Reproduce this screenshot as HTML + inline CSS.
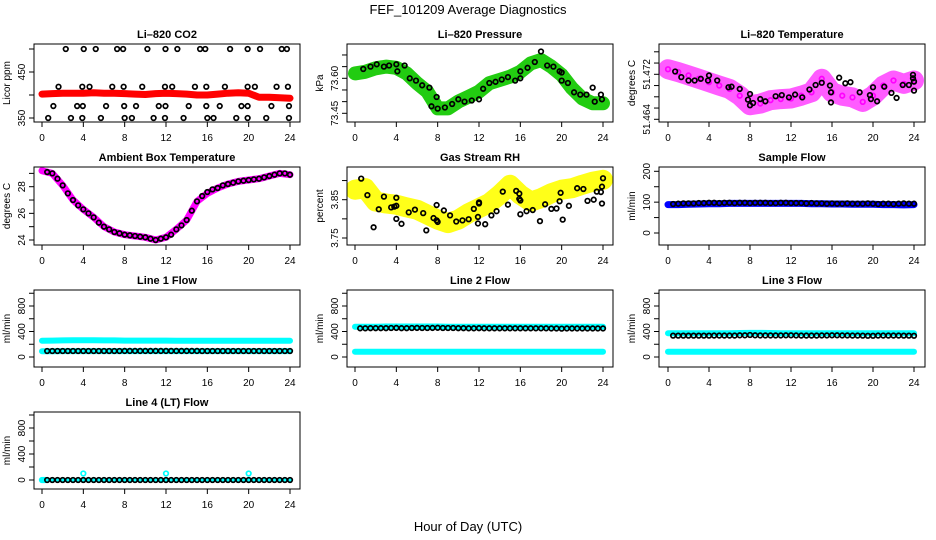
<!DOCTYPE html>
<html><head><meta charset="utf-8"><style>
html,body{margin:0;padding:0;background:#fff;}
svg{display:block;font-family:"Liberation Sans",Arial,sans-serif;}
</style></head><body>
<svg id="chart" width="936" height="540" viewBox="0 0 936 540" xmlns="http://www.w3.org/2000/svg">
<text x="468" y="14" text-anchor="middle" font-size="13">FEF_101209  Average Diagnostics</text>
<text x="468" y="531" text-anchor="middle" font-size="13">Hour of Day (UTC)</text>
</svg>
<script>
const hours = [0,1,2,3,4,5,6,7,8,9,10,11,12,13,14,15,16,17,18,19,20,21,22,23,24];
const halfHours = [0.5,1,1.5,2,2.5,3,3.5,4,4.5,5,5.5,6,6.5,7,7.5,8,8.5,9,9.5,10,10.5,11,11.5,12,12.5,13,13.5,14,14.5,15,15.5,16,16.5,17,17.5,18,18.5,19,19.5,20,20.5,21,21.5,22,22.5,23,23.5,24];
const xTickValues = [0,4,8,12,16,20,24];
const xTickLabels = ["0","4","8","12","16","20","24"];

// CO2
const co2Red = [402,403,404,404,404,405,404,404,403,402,401,403,404,403,402,400,400,402,404,405,404,395,395,394,393];
const co2BlackHours = [2.3,4.04,5.2,7.27,7.85,10.2,11.95,13.1,15.3,15.8,18.2,19.9,21.1,23.2,23.7, 1.6,3.9,4.6,6.8,7.9,9.7,11.9,12.6,14.8,15.9,17.7,19.9,20.6,22.7,23.8, 1.1,3.4,3.95,6.2,7.95,9.1,11.3,11.95,14.2,15.9,17.2,19.3,19.9,22.2,23.9, 0.6,2.8,3.9,5.7,8.0,8.7,10.8,11.9,13.7,16.0,16.6,18.8,19.9,21.7,23.9];
const co2BlackValues = [500,500,500,500,500,500,500,500,500,500,500,500,500,500,500, 418,418,418,418,418,418,418,418,418,418,418,418,418,418,418, 376,376,376,376,376,376,376,376,376,376,376,376,376,376,376, 350,350,350,350,350,350,350,350,350,350,350,350,350,350,350];
const co2Ticks = [350,400,450,500];
const co2TickLabels = ["350","","450",""];

// Pressure
const presGreen = [73.621,73.628,73.643,73.650,73.645,73.621,73.579,73.543,73.471,73.471,73.500,73.521,73.543,73.579,73.593,73.607,73.628,73.664,73.678,73.650,73.614,73.557,73.514,73.493,73.493];
const presBlackHours = [0.8,1.5,2.1,2.8,3.3,4,4.8,4.1,5.3,5.9,6.5,7.2,7.9,7.4,8.0,8.7,9.4,10.0,10.6,11.3,12.0,12.4,13.0,13.6,14.2,14.8,15.5,16.0,16.0,16.7,17.4,18.0,18.6,19.2,19.8,20.0,20.0,20.6,21.2,21.8,22.4,23.0,23.2,23.8,23.9];
const presBlackValues = [73.64,73.65,73.66,73.65,73.655,73.66,73.655,73.63,73.60,73.59,73.57,73.56,73.52,73.48,73.47,73.475,73.49,73.51,73.50,73.505,73.51,73.555,73.58,73.585,73.595,73.605,73.59,73.60,73.63,73.645,73.67,73.715,73.655,73.65,73.63,73.625,73.59,73.58,73.54,73.53,73.53,73.56,73.50,73.53,73.51];
const presTicks = [73.45,73.50,73.55,73.60,73.65,73.70];
const presTickLabels = ["73.45","","","73.60","",""];

// Li-820 temperature
const tempMagenta = [51.4729,51.4724,51.4718,51.4712,51.4706,51.4700,51.4694,51.4682,51.4665,51.4668,51.4674,51.4676,51.4677,51.4682,51.4688,51.4712,51.4688,51.4682,51.4679,51.4671,51.4682,51.4700,51.4709,51.4703,51.4709];
const tempBlackHours = [0.7,1.3,2,2.6,3.2,4.0,3.9,4.8,5.9,6.2,7.0,8,7.8,8.0,8.3,9,9.5,10.5,11.1,11.8,12.4,13.1,13.8,14.4,15,15.8,15.9,15.9,16.7,17.3,17.8,18.7,19.7,19.8,20.4,20.0,21.1,21.8,22.3,22.9,23.5,23.9,23.9,24,24];
const tempBlackValues = [51.4725,51.4715,51.4709,51.4709,51.4712,51.4718,51.4709,51.4709,51.4697,51.4698,51.4694,51.4685,51.4675,51.4665,51.4669,51.4676,51.4672,51.4681,51.4683,51.4679,51.4684,51.4679,51.4693,51.4701,51.4705,51.4700,51.4688,51.4670,51.4714,51.4704,51.4706,51.4688,51.4683,51.4676,51.4672,51.4697,51.4698,51.4687,51.4678,51.4701,51.4701,51.4719,51.4713,51.4707,51.4691];
const tempTicks = [51.464,51.466,51.468,51.470,51.472,51.474,51.476];
const tempTickLabels = ["51.464","","","","51.472","",""];

// Ambient
const ambMagenta = [29.2,29.0,28.1,27.0,26.3,25.7,25.0,24.6,24.4,24.3,24.2,24.0,24.2,24.8,25.5,26.9,27.5,27.9,28.2,28.4,28.5,28.6,28.8,29.0,28.9];
const ambBlack = [29.1,29.0,28.6,28.1,27.5,27.0,26.6,26.3,26.0,25.7,25.3,25.0,24.8,24.6,24.5,24.4,24.35,24.3,24.25,24.2,24.1,24.0,24.1,24.2,24.4,24.8,25.1,25.5,26.2,26.9,27.3,27.6,27.8,27.9,28.1,28.2,28.3,28.4,28.45,28.5,28.55,28.6,28.7,28.8,28.9,29.0,29.0,28.9];
const ambTicks = [24,25,26,27,28,29];
const ambTickLabels = ["24","","26","","28",""];

// RH
const rhYellow = [3.876,3.880,3.845,3.840,3.837,3.830,3.824,3.811,3.798,3.789,3.798,3.815,3.828,3.841,3.863,3.889,3.863,3.845,3.854,3.867,3.876,3.880,3.889,3.897,3.902];
const rhBlackHours = [0.6,1.2,1.8,2.3,2.8,3.5,3.8,4.0,4.0,4.0,4.5,5.2,5.8,6.6,6.9,7.6,7.9,7.9,8.0,8.6,9.2,9.8,10.4,11.0,11.5,11.9,11.9,12.0,12.0,12.6,13.2,13.7,14.3,14.8,15.6,15.9,15.9,16.0,16.0,16.6,17.2,17.9,18.4,19.0,19.5,19.8,19.9,20.1,20.7,21.5,22.1,22.5,23.1,23.4,23.8,23.9,23.9,24.0];
const rhBlackValues = [3.905,3.862,3.778,3.825,3.858,3.830,3.832,3.834,3.855,3.800,3.787,3.817,3.824,3.815,3.770,3.802,3.836,3.796,3.792,3.822,3.809,3.793,3.796,3.799,3.826,3.805,3.788,3.840,3.843,3.786,3.809,3.820,3.871,3.837,3.873,3.852,3.866,3.848,3.812,3.820,3.823,3.794,3.838,3.826,3.827,3.846,3.868,3.798,3.834,3.880,3.878,3.847,3.850,3.871,3.870,3.884,3.840,3.906];
const rhTicks = [3.75,3.80,3.85,3.90];
const rhTickLabels = ["3.75","","3.85",""];

// Sample flow
const sampleBlue = [92,92,93,94,95,95,96,96,96,96,96,96,96,96,95,95,94,94,93,93,93,92,92,91,92];
const sampleBlack = [94,95,96,96,96,97,97,98,98,97,98,98,97,98,98,97,98,98,98,97,97,98,98,97,97,97,96,97,96,96,95,96,95,95,96,95,95,95,96,95,94,95,95,94,95,96,95,95];
const sampleTicks = [0,50,100,150,200];
const sampleTickLabels = ["0","","100","","200"];

// Line flows
const flowTicks = [0,200,400,600,800,1000];
const flowTickLabels = ["0","","400","","800",""];
const line1CyanHigh = [256,258,260,262,262,262,260,260,258,258,258,258,258,256,256,256,256,256,256,256,256,256,256,256,256];
const line1CyanLow = [90,90,92,92,92,92,92,92,92,92,92,92,92,92,92,92,92,92,92,92,92,92,92,92,92];
const line1Black = [94,94,94,94,94,94,94,94,94,94,94,94,94,94,94,95,95,95,95,95,95,95,95,95,95,95,95,95,95,95,94,94,94,94,94,94,94,94,94,94,94,94,94,94,94,94,94,94];
const line2CyanHigh = [475,475,476,478,478,478,478,478,478,476,476,476,476,475,475,475,475,475,475,475,475,475,475,475,475];
const line2CyanLow = [83,83,83,83,83,83,83,83,83,83,83,83,83,83,83,83,83,83,83,83,83,83,83,83,83];
const line2Black = [450,450,452,452,452,452,455,456,452,452,455,456,455,455,456,458,455,455,455,452,452,450,450,452,450,450,450,450,450,450,450,450,450,450,450,450,450,448,448,445,448,448,448,448,448,448,448,448];
const line3CyanHigh = [372,372,372,372,372,372,374,376,378,378,376,374,374,374,374,372,372,372,372,372,372,372,372,372,372];
const line3CyanLow = [83,83,83,83,83,83,83,83,83,83,83,83,83,83,83,83,83,83,83,83,83,83,83,83,83];
const line3Black = [335,335,335,335,335,335,335,335,336,336,336,336,336,340,340,345,340,338,338,338,338,338,340,340,338,336,336,336,336,338,338,340,340,338,338,336,336,335,333,333,336,336,336,336,336,335,335,333];
const line4CyanHours = [0,0.1,0.2,0.3,4,12,20];
const line4CyanValues = [0,0,0,0,100,100,100];
const line4Black = [0,0,0,0,0,0,0,0,0,0,0,0,0,0,0,0,0,0,0,0,0,0,0,0,0,0,0,0,0,0,0,0,0,0,0,0,0,0,0,0,0,0,0,0,0,0,0,0];

const NS = "http://www.w3.org/2000/svg";
const svg = document.getElementById('chart');
const cols = [{L:34,R:300,x0:42,x1:290},{L:347,R:613,x0:355,x1:603},{L:659,R:925,x0:668,x1:914}];
const rows = [{T:44,B:122},{T:167,B:245},{T:290,B:367},{T:412,B:489}];

function mk(tag, attrs, parent){
  const e = document.createElementNS(NS, tag);
  for (const k in attrs) e.setAttribute(k, attrs[k]);
  (parent||svg).appendChild(e);
  return e;
}

function panel(name, title, ylab, c, r, v1, p1, v2, p2, ticks, labels){
  const C = cols[c], R = rows[r];
  const g = mk('g', {});
  
  
  const xs = h => C.x0 + (C.x1 - C.x0) * h / 24;
  const ys = v => p1 + (v - v1) * (p2 - p1) / (v2 - v1);
  const clip = mk('clipPath', {id: 'clip-' + name}, g);
  mk('rect', {x: C.L, y: R.T, width: C.R - C.L, height: R.B - R.T}, clip);
  const plot = mk('g', {'clip-path': 'url(#clip-' + name + ')'}, g);
  
  
  const box = mk('rect', {x: C.L, y: R.T, width: C.R - C.L, height: R.B - R.T, fill: 'none', stroke: '#000', 'stroke-width': 1}, g);
  
  
  const t = mk('text', {x: (C.L + C.R) / 2, y: R.T - 6, 'text-anchor': 'middle', 'font-size': 11, 'font-weight': 'bold'}, g);
  t.textContent = title;
  
  
  const yl = mk('text', {x: 0, y: 0, transform: 'translate(' + (C.L - 24) + ',' + ((R.T + R.B) / 2) + ') rotate(-90)', 'text-anchor': 'middle', 'font-size': 10}, g);
  yl.textContent = ylab;
  
  
  xTickValues.forEach((h, i) => {
    const x = xs(h);
    const tk = mk('line', {x1: x, x2: x, y1: R.B, y2: R.B + 5, stroke: '#000'}, g);
    
    
    const tl = mk('text', {x: x, y: R.B + 19, 'text-anchor': 'middle', 'font-size': 10}, g);
    tl.textContent = xTickLabels[i];
    
    
  });
  ticks.forEach((v, i) => {
    const y = ys(v);
    const tk = mk('line', {x1: C.L - 5, x2: C.L, y1: y, y2: y, stroke: '#000'}, g);
    
    
    if (labels[i]) {
      const tl = mk('text', {x: 0, y: 0, transform: 'translate(' + (C.L - 9) + ',' + y + ') rotate(-90)', 'text-anchor': 'middle', 'font-size': 10}, g);
      tl.textContent = labels[i];
      
      
    }
  });
  return {plot, xs, ys};
}

function band(P, name, hs, vs, color, width, op){
  const pts = hs.map((h, i) => P.xs(h).toFixed(1) + ',' + P.ys(vs[i]).toFixed(1)).join(' ');
  const pl = mk('polyline', {points: pts, fill: 'none', stroke: color, 'stroke-width': width, 'stroke-linejoin': 'round', 'stroke-linecap': 'round', 'stroke-opacity': op || 1}, P.plot);
  
  
}
function points(P, name, hs, vs, color){
  const g = mk('g', {}, P.plot);
  
  
  hs.forEach((h, i) => {
    const ci = mk('circle', {cx: P.xs(h), cy: P.ys(vs[i]), r: 2.3, fill: 'none', stroke: color, 'stroke-width': 1.7}, g);
    
    
  });
}

let P;
P = panel('co2', 'Li\u2013820 CO2', 'Licor ppm', 0, 0, 350, 118, 450, 72, co2Ticks, co2TickLabels);
band(P, 'co2-red-band', hours, co2Red, '#f00', 7);
points(P, 'co2-black-points', co2BlackHours, co2BlackValues, '#000');

P = panel('pressure', 'Li\u2013820 Pressure', 'kPa', 1, 0, 73.45, 113.3, 73.60, 78.3, presTicks, presTickLabels);
band(P, 'pressure-green-band', hours, presGreen, '#22cc11', 14);
points(P, 'pressure-black-points', presBlackHours, presBlackValues, '#000');

P = panel('li820-temp', 'Li\u2013820 Temperature', 'degrees C', 2, 0, 51.464, 119.3, 51.472, 74.3, tempTicks, tempTickLabels);
band(P, 'temp-magenta-band', hours, tempMagenta, '#ff33ff', 20, 0.8);
points(P, 'temp-magenta-points', hours, tempMagenta, '#ff00ff');
points(P, 'temp-black-points', tempBlackHours, tempBlackValues, '#000');

P = panel('ambient', 'Ambient Box Temperature', 'degrees C', 0, 1, 24, 240, 28, 186.7, ambTicks, ambTickLabels);
band(P, 'ambient-magenta-line', hours, ambMagenta, '#ff00ff', 7);
points(P, 'ambient-black-points', halfHours, ambBlack, '#000');

P = panel('rh', 'Gas Stream RH', 'percent', 1, 1, 3.75, 238, 3.85, 199.7, rhTicks, rhTickLabels);
band(P, 'rh-yellow-band', hours, rhYellow, '#ffff00', 20, 0.9);
points(P, 'rh-black-points', rhBlackHours, rhBlackValues, '#000');

P = panel('sample-flow', 'Sample Flow', 'ml/min', 2, 1, 0, 233, 200, 171.3, sampleTicks, sampleTickLabels);
band(P, 'sample-blue-band', hours, sampleBlue, '#0000ff', 7);
points(P, 'sample-black-points', halfHours, sampleBlack, '#000');

P = panel('line1', 'Line 1 Flow', 'ml/min', 0, 2, 0, 357, 800, 306, flowTicks, flowTickLabels);
band(P, 'line1-cyan-high', hours, line1CyanHigh, '#00ffff', 6);
band(P, 'line1-cyan-low', hours, line1CyanLow, '#00ffff', 6);
points(P, 'line1-black-points', halfHours, line1Black, '#000');

P = panel('line2', 'Line 2 Flow', 'ml/min', 1, 2, 0, 357, 800, 306, flowTicks, flowTickLabels);
band(P, 'line2-cyan-high', hours, line2CyanHigh, '#00ffff', 6);
band(P, 'line2-cyan-low', hours, line2CyanLow, '#00ffff', 6);
points(P, 'line2-black-points', halfHours, line2Black, '#000');

P = panel('line3', 'Line 3 Flow', 'ml/min', 2, 2, 0, 357, 800, 306, flowTicks, flowTickLabels);
band(P, 'line3-cyan-high', hours, line3CyanHigh, '#00ffff', 6);
band(P, 'line3-cyan-low', hours, line3CyanLow, '#00ffff', 6);
points(P, 'line3-black-points', halfHours, line3Black, '#000');

P = panel('line4', 'Line 4 (LT) Flow', 'ml/min', 0, 3, 0, 480, 800, 428, flowTicks, flowTickLabels);
points(P, 'line4-cyan-points', line4CyanHours, line4CyanValues, '#00ffff');
band(P, 'line4-cyan-base', hours, line4Black, '#00ffff', 4);
points(P, 'line4-black-points', halfHours, line4Black, '#000');
</script>
</body></html>
